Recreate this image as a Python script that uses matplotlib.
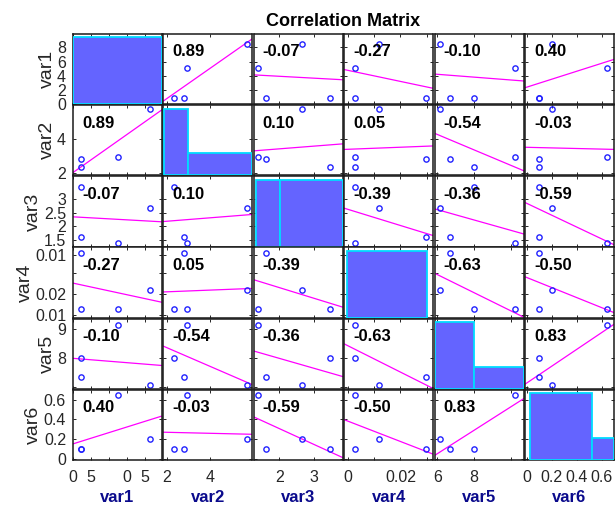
import numpy as np
import matplotlib
matplotlib.use('Agg')
import matplotlib.pyplot as plt

plt.rcParams['font.family'] = ['Liberation Sans', 'DejaVu Sans']

names = ['var1', 'var2', 'var3', 'var4', 'var5', 'var6']

# four observations of each variable
var1 = [8.50, 5.04, 0.93, 0.93]
var2 = [5.70, 2.93, 2.79, 2.35]
var3 = [2.66, 1.37, 1.61, 3.47]
var4 = [0.0117, 0.0026, 0.0296, 0.0026]
var5 = [6.13, 10.25, 6.69, 7.99]
var6 = [0.203, 0.647, 0.097, 0.100]

# pairwise correlation coefficients printed in the panels
corr = [
    [1.00, 0.89, -0.07, -0.27, -0.10, 0.40],
    [0.89, 1.00, 0.10, 0.05, -0.54, -0.03],
    [-0.07, 0.10, 1.00, -0.39, -0.36, -0.59],
    [-0.27, 0.05, -0.39, 1.00, -0.63, -0.50],
    [-0.10, -0.54, -0.36, -0.63, 1.00, 0.83],
    [0.40, -0.03, -0.59, -0.50, 0.83, 1.00],
]

# axis range of each variable
limits = [(0, 9.87), (1.85, 5.95), (1.25, 3.85),
          (-0.0015, 0.0325), (5.85, 10.7), (-0.012, 0.70)]

# histogram bin edges on the diagonal
hist_edges = [[0, 9.87], [1.89, 2.98, 5.94], [1.30, 2.02, 3.85],
              [-0.0005, 0.0300], [5.87, 8.0, 10.73], [0.025, 0.52, 0.70]]

x_ticks = [[0, 2, 4, 6, 8], [2, 4], [2, 3], [0, 0.01, 0.02, 0.03],
           [6, 8, 10], [0, 0.2, 0.4, 0.6]]
x_ticklabels = [['0', '5', '', '0', '5'], ['2', '4'], ['2', '3'],
                ['0', '', '0.02', ''], ['6', '8', ''], ['0', '0.2', '0.4', '0.6']]
y_ticks = [[0, 2, 4, 6, 8], [2, 4], [1.5, 2, 2.5, 3], [0, 0.01, 0.02, 0.029],
           [6, 8, 10], [0, 0.2, 0.4, 0.6]]
y_ticklabels = [['0', '2', '4', '6', '8'], ['2', '4'], ['1.5', '2', '2.5', '3'],
                ['0.01', '0.02', '', '0.01'], ['', '8', '9'], ['0', '0.2', '0.4', '0.6']]

data = [np.array(v) for v in (var1, var2, var3, var4, var5, var6)]
n = len(names)

fig = plt.figure(figsize=(6.16, 5.11), dpi=100)
gs = fig.add_gridspec(n, n, left=73 / 616, right=614 / 616,
                      top=1 - 34 / 511, bottom=1 - 460 / 511,
                      wspace=0.017, hspace=0.014)

for i in range(n):
    for j in range(n):
        ax = fig.add_subplot(gs[i, j])
        x, y = data[j], data[i]
        ax.set_xlim(limits[j])
        ax.set_ylim(limits[i])

        if i == j:
            # histogram on its own count scale, over the variable axis
            hax = ax.twinx()
            counts, _, _ = hax.hist(x, bins=hist_edges[i], color='#6464ff',
                                    edgecolor='#00dcff', linewidth=1.3)
            hax.set_ylim(0, counts.max() * 1.05)
            hax.set_xlim(limits[j])
            hax.set_axis_off()
        else:
            r = corr[i][j]
            xs = np.array(limits[j])
            slope = r * y.std() / x.std()
            ax.plot(xs, y.mean() + slope * (xs - x.mean()),
                    color='#ff00ff', lw=0.9)
            ax.plot(x, y, 'o', mfc='none', mec='#2222ff', ms=3.8, mew=1.0)
            ax.text(0.1, 0.745, f'{r:.2f}', transform=ax.transAxes,
                    fontsize=12, fontweight='bold', ha='left', va='center')

        ax.set_xticks(x_ticks[j])
        ax.set_yticks(y_ticks[i])
        ax.tick_params(direction='in', top=True, right=True, length=2.5,
                       width=0.7, color='#262626', labelsize=11.5,
                       labelcolor='#262626')
        ax.tick_params(axis='x', pad=7)
        ax.tick_params(axis='y', pad=5)
        for s in ax.spines.values():
            s.set_linewidth(1.1)
            s.set_color('#1a1a1a')

        if i == n - 1:
            ax.set_xticklabels(x_ticklabels[j])
            ax.set_xlabel(names[j], fontsize=12, fontweight='bold',
                          color='#0a0a8c', labelpad=4)
        else:
            ax.set_xticklabels([])
        if j == 0:
            ax.set_yticklabels(y_ticklabels[i])
            ax.set_ylabel(names[i], fontsize=14, color='#262626', labelpad=1)
        else:
            ax.set_yticklabels([])

fig.text((73 + 614) / 2 / 616, 1 - 21 / 511, 'Correlation Matrix',
         fontsize=13, fontweight='bold', ha='center', va='center')

fig.savefig('out.png', dpi=100, facecolor='white')
